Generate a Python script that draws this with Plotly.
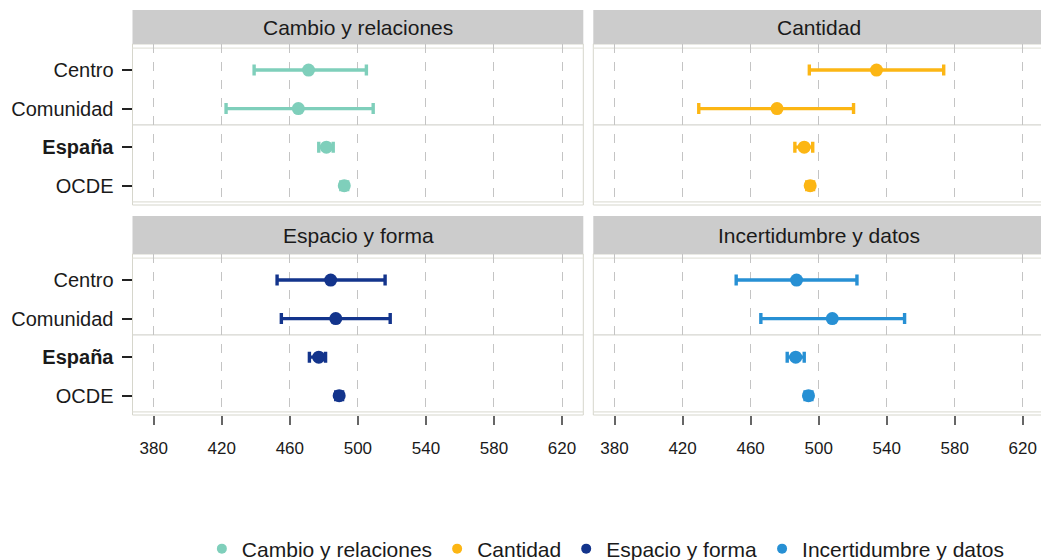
import plotly.graph_objects as go

# ---- data ----
categories = ["Centro", "Comunidad", "España", "OCDE"]
tick_labels = ["Centro", "Comunidad", "<b>España</b>", "OCDE"]
panels = ["Cambio y relaciones", "Cantidad", "Espacio y forma", "Incertidumbre y datos"]

cambio_mean = [471, 465, 481.5, 492]
cambio_low = [439, 422.5, 477, 490]
cambio_high = [505, 509, 485.5, 494]

cantidad_mean = [534, 475.5, 491.5, 495]
cantidad_low = [494.5, 429.5, 486, 493]
cantidad_high = [573.5, 520.5, 496.5, 497]

espacio_mean = [484, 487, 477, 489]
espacio_low = [452.5, 455, 471.5, 487]
espacio_high = [516, 519, 481, 491]

incert_mean = [487, 508, 486.5, 494]
incert_low = [451.5, 466, 481.5, 492]
incert_high = [522.5, 550.5, 491.5, 496]

x_ticks = [380, 420, 460, 500, 540, 580, 620]
colors = ["#7fcfbb", "#fcb614", "#13348c", "#2790d4"]

series = [
    (cambio_mean, cambio_low, cambio_high),
    (cantidad_mean, cantidad_low, cantidad_high),
    (espacio_mean, espacio_low, espacio_high),
    (incert_mean, incert_low, incert_high),
]

W, H = 1041, 560
FONT = "Liberation Sans, Arial, sans-serif"

def px_x(p):
    return p / W

def px_y(p):
    return 1 - p / H

# panel pixel boxes (left, right, top, bottom)
boxes = [
    (132.5, 583.3, 44, 205),
    (593.3, 1041, 44, 205),
    (132.5, 583.3, 254, 415),
    (593.3, 1041, 254, 415),
]
strips = [(10, 44), (10, 44), (216, 254), (216, 254)]
pxunit = 1.701
x0 = 367.5

fig = go.Figure()
ypos = list(range(len(categories)))

for i, (m, lo, hi) in enumerate(series):
    ax = "" if i == 0 else str(i + 1)
    fig.add_trace(go.Scatter(
        x=m, y=ypos, mode="markers",
        marker=dict(color=colors[i], size=13),
        error_x=dict(type="data", symmetric=False,
                     array=[h - v for h, v in zip(hi, m)],
                     arrayminus=[v - l for v, l in zip(m, lo)],
                     color=colors[i], thickness=3.4, width=5.5),
        xaxis="x" + ax, yaxis="y" + ax, showlegend=False,
    ))
    # legend proxy
    fig.add_trace(go.Scatter(
        x=[None], y=[None], mode="markers", name=panels[i],
        marker=dict(color=colors[i], size=10), xaxis="x", yaxis="y",
    ))

layout = dict(
    width=W, height=H, margin=dict(l=0, r=0, t=0, b=0, autoexpand=False),
    paper_bgcolor="white", plot_bgcolor="white",
    font=dict(family=FONT, color="#1a1a1a", size=16),
    legend=dict(orientation="h", x=0.582, xanchor="center", y=px_y(549), yanchor="middle",
                font=dict(size=21, family=FONT), itemwidth=30, tracegroupgap=0),
)

shapes = []
annotations = []
for i, (l, r, t, b) in enumerate(boxes):
    ax = "" if i == 0 else str(i + 1)
    xr = [x0, x0 + (r - l) / pxunit]
    bottom = i >= 2
    left = i % 2 == 0
    layout["xaxis" + ax] = dict(
        domain=[px_x(l), min(px_x(r), 1.0)], range=xr, anchor="y" + ax,
        tickvals=x_ticks, ticktext=[str(v) for v in x_ticks],
        showticklabels=bottom, ticks="outside" if bottom else "",
        ticklen=9, tickcolor="#666666", tickwidth=1.5, ticklabelstandoff=9,
        tickfont=dict(size=17, family=FONT, color="#1a1a1a"),
        showgrid=True, gridcolor="#c4c4c4", griddash="dash", gridwidth=1,
        zeroline=False, showline=False, fixedrange=True, automargin=False,
    )
    layout["yaxis" + ax] = dict(
        domain=[px_y(b), px_y(t)], range=[3.5, -0.675], anchor="x" + ax,
        tickvals=ypos, ticktext=tick_labels, showticklabels=left,
        ticks="outside" if left else "", ticklen=10, tickcolor="#222222", tickwidth=1.5,
        ticklabelstandoff=4,
        tickfont=dict(size=20, family=FONT, color="#1a1a1a"),
        showgrid=False, zeroline=False, showline=False, fixedrange=True, automargin=False,
    )
    # panel border
    shapes.append(dict(type="rect", xref="paper", yref="paper",
                       x0=px_x(l), x1=px_x(r) if r < W else 1.01, y0=px_y(b), y1=px_y(t),
                       line=dict(color="#d6d6cc", width=1), layer="below"))
    # inner reference lines
    for yv, col in [(-0.57, "#e4e4dc"), (1.42, "#d6d6d0"), (3.42, "#e0e0d8")]:
        shapes.append(dict(type="line", xref="x" + ax + " domain", yref="y" + ax,
                           x0=0, x1=1, y0=yv, y1=yv, line=dict(color=col, width=1.2),
                           layer="below"))
    # strip
    st, sb = strips[i]
    shapes.append(dict(type="rect", xref="paper", yref="paper",
                       x0=px_x(l), x1=px_x(r) if r < W else 1.01, y0=px_y(sb), y1=px_y(st),
                       fillcolor="#cccccc", line=dict(color="#cccccc", width=0), layer="below"))
    annotations.append(dict(xref="paper", yref="paper",
                            x=px_x(l + 451 / 2), y=px_y((st + sb) / 2),
                            text=panels[i], showarrow=False, xanchor="center", yanchor="middle",
                            font=dict(size=21, family=FONT, color="#1a1a1a")))

layout["shapes"] = shapes
layout["annotations"] = annotations
fig.update_layout(**layout)
fig.write_html(
    "out.html",
    config={"displayModeBar": False},
    post_script="document.body.style.margin='0';document.body.style.overflow='hidden';",
)
